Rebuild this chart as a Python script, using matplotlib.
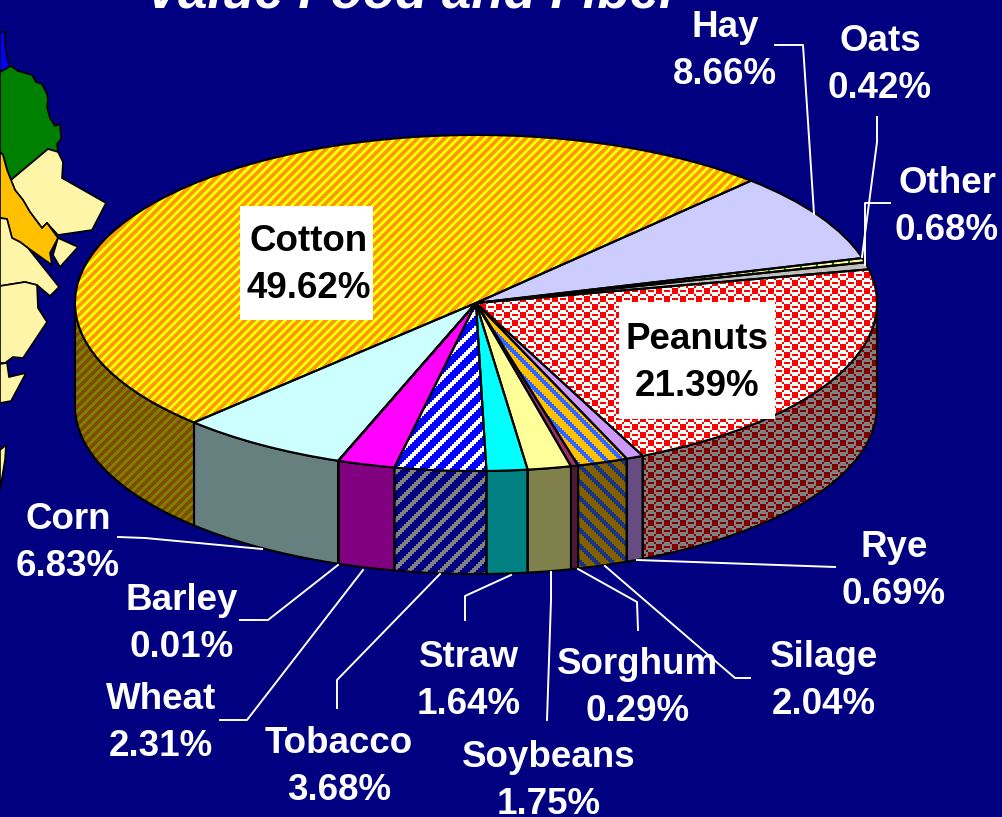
import numpy as np
import matplotlib
matplotlib.use('Agg')
import matplotlib.pyplot as plt
from matplotlib.patches import Polygon, Rectangle

W, H = 1002, 817
navy = '#000080'

# slices clockwise, starting at the Cotton/Hay border
names = ['Hay', 'Oats', 'Other', 'Peanuts', 'Rye', 'Silage', 'Sorghum', 'Soybeans',
         'Straw', 'Tobacco', 'Wheat', 'Barley', 'Corn', 'Cotton']
shares = [8.66, 0.42, 0.68, 21.39, 0.69, 2.04, 0.29, 1.75, 1.64, 3.68, 2.31, 0.01, 6.83, 49.62]
top_colors = ['#CCCCFF', '#FFFF99', '#C0C0C0', '#FFFFFF', '#CC99FF', '#FFC000', '#993366',
              '#FFFF99', '#00FFFF', '#0000FF', '#FF00FF', '#008000', '#CCFFFF', '#FF9900']
wall_colors = ['#666680', '#80804C', '#606060', '#808080', '#664C80', '#806000', '#4C1933',
               '#80804C', '#008080', '#000080', '#800080', '#004000', '#668080', '#804C00']

# second colour of the pattern fills: name -> (kind, top colour, wall colour)
patterns = {
    'Cotton': ('cotton', '#FFFF00', '#808000'),
    'Peanuts': ('check', '#FF0000', '#800000'),
    'Tobacco': ('wide', '#FFFFFF', '#808080'),
    'Silage': ('back', '#3366FF', '#1A3380'),
    'Oats': ('bars', '#008000', '#004000'),
}

label_pos = {
    'Hay': (725, 51), 'Oats': (880, 65), 'Other': (947, 207), 'Cotton': (309, 265),
    'Peanuts': (697, 363), 'Rye': (894, 571), 'Silage': (824, 681), 'Sorghum': (638, 688),
    'Soybeans': (549, 781), 'Straw': (469, 681), 'Tobacco': (339, 767), 'Wheat': (161, 723),
    'Barley': (182, 624), 'Corn': (68, 543),
}

leaders = [
    [(775, 45), (803, 45), (814, 214)],
    [(877, 117), (877, 142), (862, 257)],
    [(890, 203), (865, 203), (865, 265)],
    [(118, 537), (145, 538), (262, 549)],
    [(240, 620), (268, 620), (338, 565)],
    [(220, 720), (247, 720), (363, 570)],
    [(337, 708), (337, 680), (440, 574)],
    [(465, 620), (465, 596), (511, 575)],
    [(547, 720), (551, 600), (551, 572)],
    [(638, 630), (637, 602), (578, 569)],
    [(750, 678), (735, 678), (605, 566)],
    [(835, 567), (637, 560)],
]

# the map behind the pie
map_shapes = [
    ('#0000FF', [(0, 32), (5, 32), (5, 42), (7, 58), (10, 67), (0, 72)]),
    ('#008000', [(0, 72), (11, 66), (18, 71), (32, 75), (36, 82), (42, 84), (47, 94), (48, 100),
                 (47, 107), (50, 118), (55, 126), (60, 124), (61, 139), (57, 144), (58, 152),
                 (48, 149), (11, 180), (7, 170), (3, 155), (0, 152)]),
    ('#FFF5A8', [(11, 180), (48, 149), (58, 152), (63, 162), (62, 178), (106, 203), (92, 230),
                 (58, 235), (47, 223), (42, 228), (30, 212), (23, 200), (15, 190)]),
    ('#FFC000', [(0, 152), (3, 155), (7, 170), (11, 180), (15, 190), (23, 200), (30, 212),
                 (42, 228), (47, 223), (58, 238), (50, 253), (52, 265), (28, 248), (20, 242),
                 (12, 238), (7, 219), (0, 218)]),
    ('#FFF5A8', [(58, 238), (78, 247), (60, 267), (53, 255)]),
    ('#FFF5A8', [(0, 218), (7, 219), (12, 238), (20, 242), (28, 248), (59, 287), (50, 296),
                 (37, 285), (25, 282), (0, 286)]),
    ('#FFF5A8', [(0, 286), (25, 282), (37, 285), (38, 308), (47, 322), (23, 358), (13, 357),
                 (5, 363), (0, 363)]),
    ('#FFF5A8', [(0, 364), (7, 363), (9, 377), (26, 373), (11, 401), (0, 403)]),
    ('#FFF5A8', [(0, 450), (6, 445), (5, 460), (0, 490)]),
]

# pie geometry in pixels
cx, cy, rx, ry, depth = 476, 303, 401, 168, 103


def tile_mask(kind):
    y, x = np.mgrid[0:H, 0:W]
    if kind == 'cotton':
        return (x + y) % 9 < 4
    if kind == 'wide':
        return (x // 2 + y // 2) % 8 < 3
    if kind == 'back':
        return (x // 2 - y // 2) % 8 < 3
    if kind == 'bars':
        return x % 16 < 2
    cells = ['11100000',
             '11101110',
             '11100000',
             '00010001',
             '00001110',
             '11101110',
             '00001110',
             '00010001']
    tile = np.array([[c == '1' for c in row] for row in cells])
    return tile[(y // 2) % 8, (x // 2) % 8]


def add_texture(ax, patch, kind, color, zorder):
    rgba = np.zeros((H, W, 4))
    rgba[tile_mask(kind)] = matplotlib.colors.to_rgba(color)
    im = ax.imshow(rgba, extent=(ax_xlim[0], ax_xlim[1], ax_ylim[0], ax_ylim[1]),
                   interpolation='nearest', aspect='auto', zorder=zorder, origin='upper')
    im.set_clip_path(patch)


fig = plt.figure(figsize=(W / 100, H / 100), dpi=100, facecolor=navy)

# map layer, in pixels
ax_map = fig.add_axes([0, 0, 1, 1], zorder=0)
ax_map.set_xlim(0, W)
ax_map.set_ylim(H, 0)
ax_map.axis('off')
for color, pts in map_shapes:
    ax_map.add_patch(Polygon(pts, closed=True, facecolor=color, edgecolor='black', linewidth=1.2))

# pie layer, one data unit is the ellipse radius
ax = fig.add_axes([0, 0, 1, 1], zorder=1)
ax_xlim = ((0 - cx) / rx, (W - cx) / rx)
ax_ylim = ((cy - H) / ry, cy / ry)
wedges, _ = ax.pie(shares, colors=top_colors, startangle=46.7, counterclock=False,
                   wedgeprops=dict(linewidth=0, zorder=4))
ax.pie(shares, colors=['none'] * len(shares), startangle=46.7, counterclock=False,
       wedgeprops=dict(edgecolor='black', linewidth=1.5, zorder=6))

drop = depth / ry
for name, wedge, wall in zip(names, wedges, wall_colors):
    t1 = max(wedge.theta1, -180)
    t2 = min(wedge.theta2, 0)
    pattern = patterns.get(name)
    if pattern:
        add_texture(ax, wedge, pattern[0], pattern[1], 5)
    if t2 <= t1:
        continue
    t = np.radians(np.linspace(t1, t2, 60))
    rim_x, rim_y = np.cos(t), np.sin(t)
    pts = np.r_[np.c_[rim_x, rim_y], np.c_[rim_x, rim_y - drop][::-1]]
    side = Polygon(pts, closed=True, facecolor=wall, edgecolor='none', zorder=1)
    ax.add_patch(side)
    if pattern:
        add_texture(ax, side, pattern[0], pattern[2], 2)
    ax.add_patch(Polygon(pts, closed=True, facecolor='none', edgecolor='black',
                         linewidth=1.5, zorder=3))

ax.set_xlim(ax_xlim)
ax.set_ylim(ax_ylim)
ax.set_aspect('auto')
ax.set_frame_on(False)
ax.patch.set_alpha(0)

# labels, in pixels
ax_txt = fig.add_axes([0, 0, 1, 1], zorder=2)
ax_txt.set_xlim(0, W)
ax_txt.set_ylim(H, 0)
ax_txt.axis('off')
ax_txt.add_patch(Rectangle((240, 206), 133, 114, facecolor='white', edgecolor='none'))
ax_txt.add_patch(Rectangle((619, 302), 156, 117, facecolor='white', edgecolor='none'))

for pts in leaders:
    xs, ys = zip(*pts)
    ax_txt.plot(xs, ys, color='white', linewidth=1.4)

font = ['Liberation Sans', 'DejaVu Sans']
for name, share in zip(names, shares):
    x, y = label_pos[name]
    color = 'black' if name in ('Cotton', 'Peanuts') else 'white'
    ax_txt.text(x, y, f'{name}\n{share:.2f}%', ha='center', va='center', color=color,
                family=font, fontweight='bold', fontsize=26.5, linespacing=1.41)

ax_txt.text(412, 7, 'Value Food and Fiber', ha='center', va='baseline', color='white',
            family=font, fontweight='bold', fontstyle='italic', fontsize=38)

fig.savefig('out.png', dpi=100, facecolor=navy)
